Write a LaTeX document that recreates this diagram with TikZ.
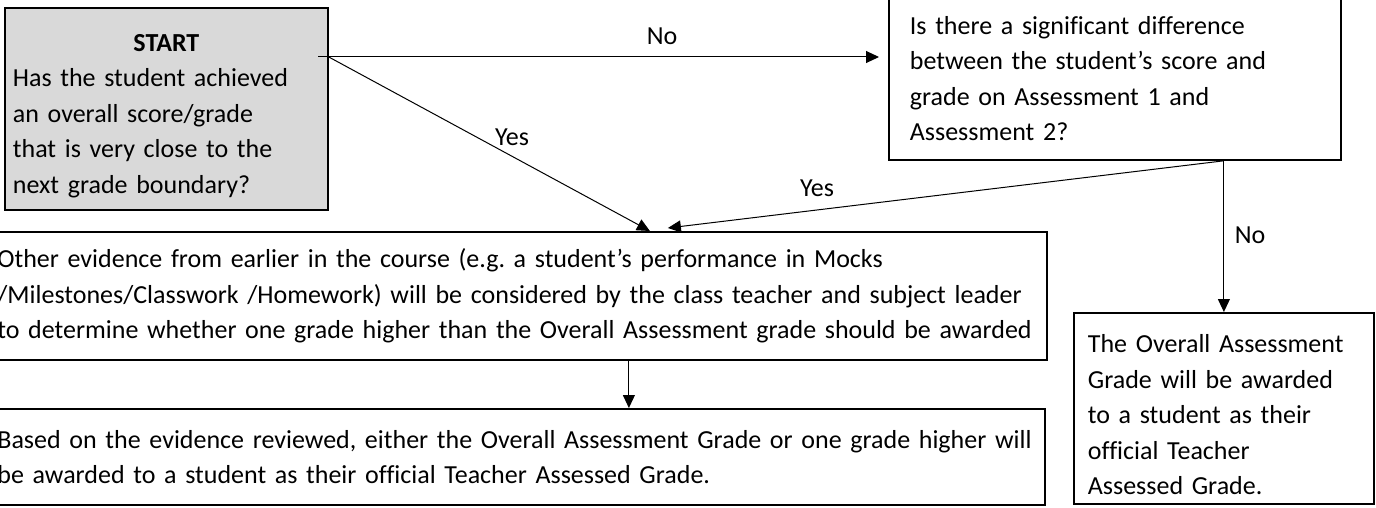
\documentclass[tikz,border=0pt]{standalone}
\usepackage{fontspec}
\setmainfont{Carlito}[Ligatures=NoCommon]
\usetikzlibrary{arrows.meta}
\definecolor{startgray}{RGB}{217,217,217}
\tikzset{
  box/.style={draw, line width=1.8pt, anchor=north west, align=left, inner ysep=0pt,
    font=\fontsize{26}{35.5}\selectfont},
  arr/.style={-{Triangle[length=13pt,width=12pt]}, line width=1pt},
  lbl/.style={font=\fontsize{26}{35.5}\selectfont}
}
\frenchspacing
\begin{document}
\begin{tikzpicture}[x=1pt,y=-1pt]
  \useasboundingbox (0,0) rectangle (1376,508);
  \node[box, fill=startgray, minimum width=323pt, minimum height=202pt, text width=307pt, inner xsep=8pt] (start) at (4,7)
    {\rule{0pt}{31pt}\makebox[307pt]{\bfseries START}\\Has the student achieved\\an overall score/grade\\that is very close to the\\next grade boundary?};
  \node[box, minimum width=452pt, minimum height=163pt, text width=410pt, inner xsep=21pt] (diff) at (888,-4)
    {Is there a significant difference\\between the student’s score and\\grade on Assessment 1 and\\Assessment 2?};
  \node[box, minimum width=1058pt, minimum height=128pt, text width=1041pt, inner xsep=7pt] (mid) at (-12,231)
    {Other evidence from earlier in the course (e.g. a student’s performance in Mocks\\/Milestones/Classwork /Homework) will be considered by the class teacher and subject leader\\to determine whether one grade higher than the Overall Assessment grade should be awarded};
  \node[box, minimum width=1056pt, minimum height=96pt, text width=1039pt, inner xsep=7pt] (result) at (-12,408)
    {Based on the evidence reviewed, either the Overall Assessment Grade or one grade higher will\\be awarded to a student as their official Teacher Assessed Grade.};
  \node[box, minimum width=300pt, minimum height=191pt, text width=272pt, inner xsep=14pt] (final) at (1073,312)
    {\rule{0pt}{31pt}The Overall Assessment\\Grade will be awarded\\to a student as their\\official Teacher\\Assessed Grade.};
  % connectors
  \coordinate (split) at (318,57);
  \coordinate (fork) at (final.north |- diff.south);
  \draw[arr] (split) -- ([xshift=-9pt]split -| diff.west);
  \draw[arr] (split -| start.east) -- ([xshift=132pt]mid.north);
  \draw[arr] (fork) -- ([xshift=150pt,yshift=3pt]mid.north);
  \draw[arr] (fork) -- (final.north);
  \draw[arr] ([xshift=111pt]mid.south) -- ([xshift=111pt]mid.south |- result.north);
  \node[lbl] (no1) at (662,36) {No};
  \node[lbl] (yes1) at (512,137) {Yes};
  \node[lbl] (yes2) at (817,188) {Yes};
  \node[lbl] (no2) at (1250,235) {No};
\end{tikzpicture}
\end{document}
